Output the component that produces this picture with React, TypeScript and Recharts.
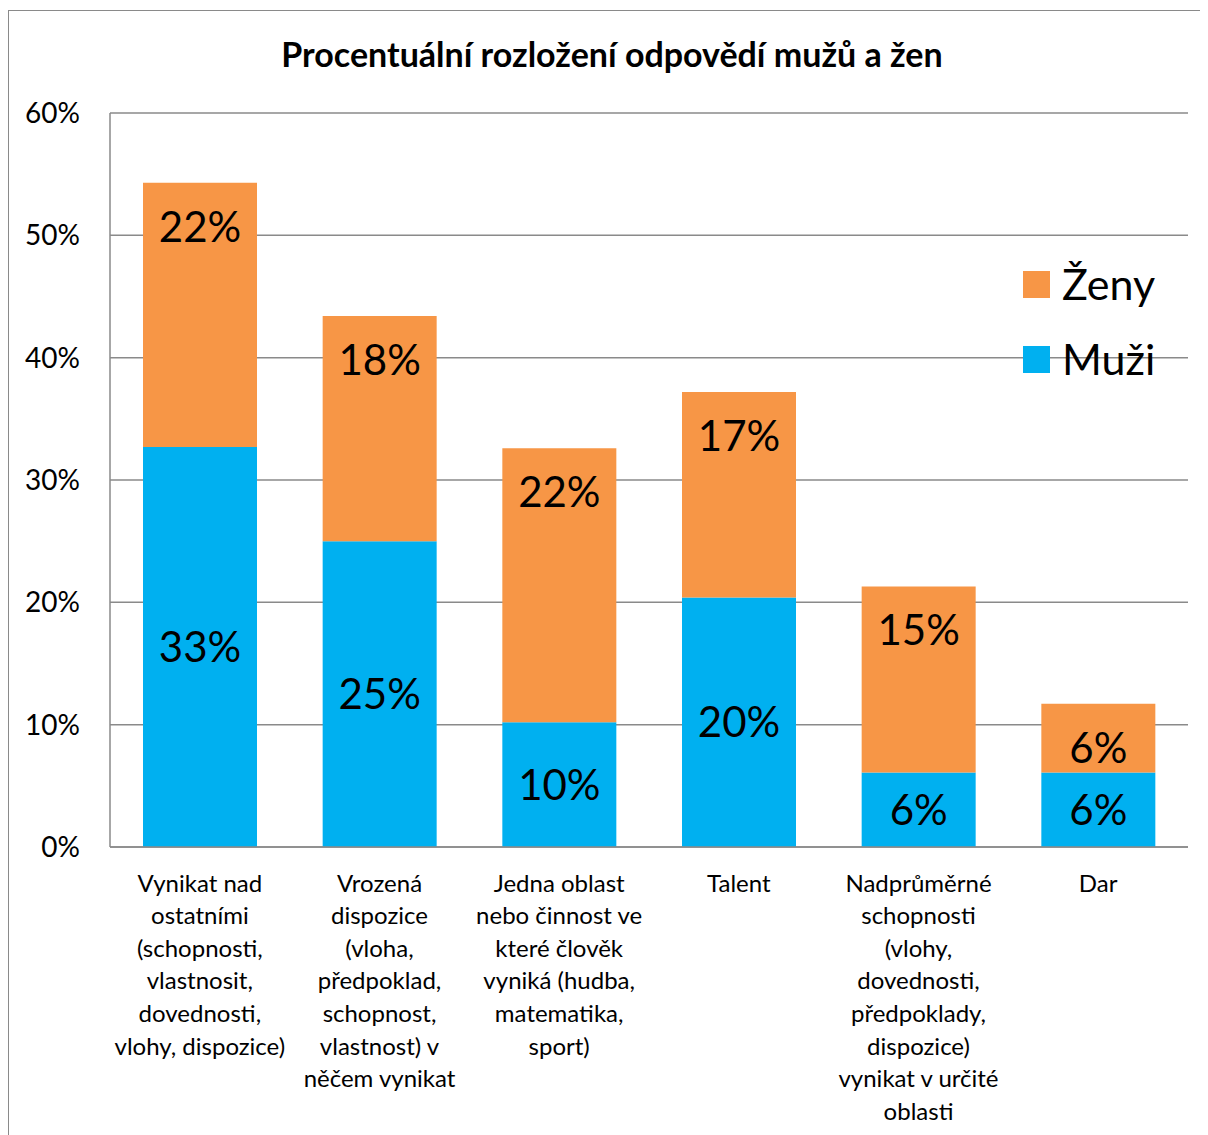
import React from 'react';
import {
  BarChart,
  Bar,
  XAxis,
  YAxis,
  CartesianGrid,
  Legend,
  LabelList,
} from 'recharts';

// Category labels, line breaks as in the original
const categories = [
  'Vynikat nad\nostatními\n(schopnosti,\nvlastnosit,\ndovednosti,\nvlohy, dispozice)',
  'Vrozená\ndispozice\n(vloha,\npředpoklad,\nschopnost,\nvlastnost) v\nněčem vynikat',
  'Jedna oblast\nnebo činnost ve\nkteré člověk\nvyniká (hudba,\nmatematika,\nsport)',
  'Talent',
  'Nadprůměrné\nschopnosti\n(vlohy,\ndovednosti,\npředpoklady,\ndispozice)\nvynikat v určité\noblasti',
  'Dar',
];

// values in percent
const muzi = [32.7, 25.0, 10.2, 20.4, 6.1, 6.1];
const zeny = [21.6, 18.4, 22.4, 16.8, 15.2, 5.6];

const yTicks = [0, 10, 20, 30, 40, 50, 60];

const TITLE = 'Procentuální rozložení odpovědí mužů a žen';
const FONT = 'Lato, "Open Sans", sans-serif';
const ORANGE = '#F79646';
const BLUE = '#00B0F0';
const GRID = '#8a8a8a';

const data = categories.map((name, i) => ({ name, muzi: muzi[i], zeny: zeny[i] }));

const CategoryTick = (props: any) => {
  const { x, y, payload } = props;
  const lines = String(payload.value).split('\n');
  return (
    <g transform={`translate(${x},${y})`}>
      {lines.map((line, i) => (
        <text
          key={i}
          x={0}
          y={35 + i * 32.6}
          textAnchor="middle"
          dominantBaseline="central"
          fill="#000"
          fontSize={24}
          fontFamily={FONT}
        >
          {line}
        </text>
      ))}
    </g>
  );
};

const LegendBox = () => {
  const items = [
    { label: 'Ženy', color: ORANGE },
    { label: 'Muži', color: BLUE },
  ];
  return (
    <div style={{ fontFamily: FONT }}>
      {items.map((it, i) => (
        <div
          key={it.label}
          style={{ display: 'flex', alignItems: 'center', height: 50, marginBottom: i === 0 ? 25 : 0 }}
        >
          <span style={{ width: 27, height: 27, background: it.color, display: 'inline-block' }} />
          <span style={{ marginLeft: 12, fontSize: 43, color: '#000', lineHeight: '50px' }}>{it.label}</span>
        </div>
      ))}
    </div>
  );
};

const pct = (v: any) => `${Math.round(Number(v))}%`;

export default function App() {
  return (
    <div style={{ paddingTop: 2 }}>
      <div
        style={{
          position: 'relative',
          borderLeft: '1px solid #8a8a8a',
          borderTop: '1px solid #8a8a8a',
          width: 1199,
          height: 1124,
          background: '#fff',
        }}
      >
        <div
          style={{
            position: 'absolute',
            left: -1,
            width: 1208,
            top: 23,
            textAlign: 'center',
            fontFamily: FONT,
            fontWeight: 700,
            fontSize: 34,
            lineHeight: '40px',
            color: '#000',
          }}
        >
          {TITLE}
        </div>
        <BarChart
          width={1199}
          height={1124}
          data={data}
          margin={{ top: 102, right: 20, left: 0, bottom: 0 }}
          barCategoryGap={0}
        >
          <CartesianGrid horizontal vertical={false} stroke={GRID} strokeWidth={1.5} />
          <XAxis
            dataKey="name"
            height={288}
            interval={0}
            tick={<CategoryTick />}
            tickLine={false}
            tickSize={0}
            tickMargin={0}
            axisLine={{ stroke: GRID, strokeWidth: 1.5 }}
          />
          <YAxis
            width={101}
            domain={[0, 60]}
            ticks={yTicks}
            tickFormatter={(v) => `${v}%`}
            tickLine={false}
            tickMargin={24}
            axisLine={{ stroke: GRID, strokeWidth: 1.5 }}
            tick={{ fill: '#000', fontSize: 28, fontFamily: FONT }}
          />
          <Legend
            layout="horizontal"
            verticalAlign="middle"
            align="center"
            content={<LegendBox />}
            wrapperStyle={{ position: 'absolute', left: 1014, top: 248, width: 180 }}
          />
          <Bar dataKey="muzi" name="Muži" stackId="a" fill={BLUE} barSize={114} isAnimationActive={false}>
            <LabelList
              dataKey="muzi"
              position="center"
              formatter={pct}
              fill="#000"
              fontSize={42}
              fontFamily={FONT}
            />
          </Bar>
          <Bar dataKey="zeny" name="Ženy" stackId="a" fill={ORANGE} barSize={114} isAnimationActive={false}>
            <LabelList
              dataKey="zeny"
              position="insideTop"
              offset={29}
              formatter={pct}
              fill="#000"
              fontSize={42}
              fontFamily={FONT}
            />
          </Bar>
        </BarChart>
      </div>
    </div>
  );
}
